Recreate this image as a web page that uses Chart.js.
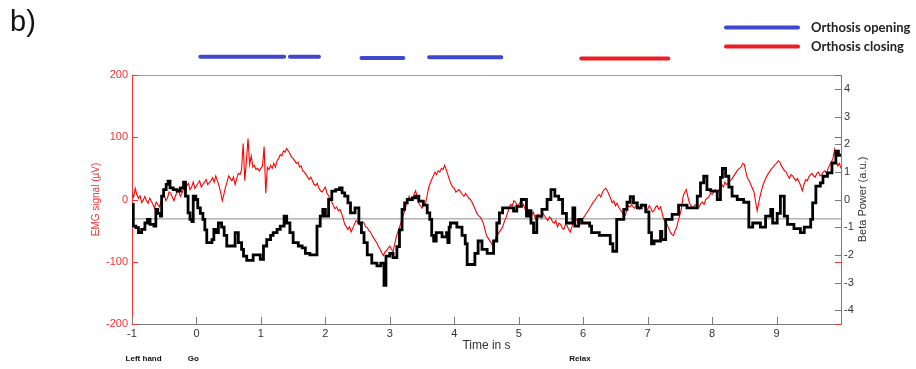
<!DOCTYPE html>
<html>
<head>
<meta charset="utf-8">
<script src="https://cdn.jsdelivr.net/npm/chart.js@4/dist/chart.umd.min.js"></script>
<style>
  html, body { margin: 0; padding: 0; background: #ffffff; }
  #wrap { position: relative; width: 916px; height: 369px; }
</style>
</head>
<body>
<div id="wrap"><canvas id="c" width="916" height="369"></canvas></div>
<script>
// EMG signal (µV), one sample every 25 ms from -1 s to 10 s
const emgStart = -1;
const emgStep = 0.025;
const emgValue = [
  10,4,18,8,2,6,-5,-1,5,-2,-6,2,-3,-8,-14,-4,-8,-12,-3,4,
  8,-2,2,12,10,4,-2,6,12,14,5,10,18,12,22,26,16,20,28,18,
  22,26,30,20,24,28,32,24,27,30,35,28,38,30,22,12,-2,8,20,28,
  38,34,30,36,24,34,42,40,48,90,30,62,98,56,70,52,55,48,50,46,
  50,54,85,10,52,48,55,50,58,52,62,66,72,70,78,76,82,78,74,68,
  66,62,58,60,52,54,46,44,40,36,32,36,30,24,22,26,18,14,12,16,
  20,10,6,0,-4,-10,-15,-12,-18,-16,-22,-30,-40,-44,-48,-44,-52,-46,-40,-34,
  -36,-40,-42,-36,-38,-44,-45,-50,-52,-58,-62,-66,-70,-76,-80,-86,-90,-84,-82,-78,
  -75,-80,-84,-72,-60,-52,-45,-36,-28,-20,-10,-2,5,-2,0,8,14,4,-6,-10,
  -14,-10,-8,4,18,26,32,38,44,40,46,44,50,48,55,48,40,32,25,20,
  18,12,14,16,12,8,5,10,6,2,0,-4,-10,-16,-22,-26,-28,-32,-38,-48,
  -58,-62,-66,-70,-76,-68,-60,-56,-52,-48,-44,-36,-30,-22,-14,-8,-10,-2,-4,-10,
  -8,-4,-12,-8,-16,-12,-18,-22,-26,-20,-28,-32,-24,-26,-30,-22,-26,-30,-34,-28,
  -30,-36,-38,-34,-44,-38,-40,-46,-48,-40,-42,-48,-52,-44,-38,-34,-32,-38,-40,-34,
  -30,-26,-22,-18,-14,-10,-5,-2,2,6,8,4,12,16,18,14,8,2,-5,-2,
  -10,-6,-12,-16,-20,-24,-26,-18,-10,-12,-8,-12,-14,-8,-10,-16,-14,-8,-12,-18,
  -16,-10,-14,-20,-18,-12,-10,-16,-12,-22,-32,-36,-40,-46,-52,-56,-58,-50,-45,-34,
  -25,-14,5,12,16,4,-6,-10,-14,-10,-8,-14,-12,-6,-4,-8,0,2,4,10,
  8,12,16,10,14,20,24,20,28,24,26,30,32,36,40,44,48,50,52,58,
  56,44,34,30,24,18,12,-4,-18,-4,8,18,26,32,38,42,46,50,52,56,
  58,62,60,54,50,46,44,38,34,40,38,34,30,34,28,22,14,24,32,30,
  36,40,42,38,36,42,44,38,40,44,46,42,50,56,60,66,80,62,54,58,
  50
];

// Beta power (a.u.), piecewise constant: each value holds from its time to the next
const betaTime = [
  -1.00,-0.98,-0.94,-0.90,-0.85,-0.80,-0.76,-0.72,-0.66,-0.63,-0.60,-0.56,-0.54,-0.51,-0.47,-0.44,-0.41,-0.36,-0.30,-0.25,
  -0.20,-0.17,-0.13,-0.10,-0.07,-0.05,-0.01,0.02,0.06,0.10,0.13,0.16,0.24,0.27,0.31,0.34,0.39,0.43,0.47,0.60,
  0.65,0.70,0.73,0.78,0.88,0.99,1.04,1.09,1.15,1.19,1.25,1.30,1.36,1.40,1.45,1.50,1.58,1.64,1.69,1.76,
  1.87,1.92,1.96,2.00,2.05,2.10,2.16,2.22,2.26,2.30,2.35,2.39,2.46,2.52,2.56,2.60,2.65,2.72,2.80,2.86,
  2.91,2.94,3.00,3.05,3.11,3.15,3.19,3.23,3.27,3.35,3.40,3.45,3.52,3.58,3.62,3.65,3.68,3.72,3.81,3.88,
  3.90,3.92,3.94,4.04,4.12,4.17,4.20,4.32,4.37,4.43,4.51,4.61,4.66,4.70,4.75,4.92,4.97,5.04,5.12,5.16,
  5.19,5.23,5.28,5.36,5.44,5.50,5.56,5.62,5.68,5.74,5.84,5.87,5.93,5.98,6.10,6.13,6.25,6.42,6.46,6.52,
  6.63,6.68,6.73,6.78,6.84,6.90,6.97,7.02,7.06,7.10,7.20,7.22,7.28,7.38,7.48,7.61,7.77,7.82,7.87,7.92,
  7.98,8.08,8.13,8.16,8.21,8.26,8.31,8.39,8.49,8.57,8.63,8.75,8.83,8.91,8.94,9.01,9.06,9.12,9.17,9.27,
  9.37,9.43,9.53,9.56,9.61,9.68,9.72,9.79,9.86,9.92,9.96,10.00
];
const betaValue = [
  -0.18,-0.96,-1.02,-1.20,-1.08,-0.85,-0.72,-0.90,-0.96,-0.36,-0.50,-0.60,0.12,0.36,0.55,0.66,0.42,0.36,0.30,0.42,
  0.63,0.12,-0.48,-0.72,-0.80,0.12,0.00,-0.30,-0.50,-0.72,-1.10,-1.56,-1.45,-1.08,-1.20,-0.85,-1.00,-1.30,-1.68,-1.20,
  -1.56,-1.80,-2.05,-2.20,-2.00,-2.16,-1.68,-1.45,-1.30,-1.20,-1.08,-0.96,-0.60,-0.85,-1.20,-1.56,-1.68,-1.75,-1.95,-2.00,
  -0.96,-0.60,-0.36,-0.60,0.00,0.30,0.36,0.42,0.24,0.12,-0.12,-0.48,-0.30,-0.85,-1.20,-1.56,-2.00,-2.30,-2.40,-2.30,
  -3.10,-2.05,-1.95,-2.10,-1.70,-1.10,-0.36,-0.12,0.00,0.06,0.12,-0.06,-0.20,-0.48,-0.72,-1.30,-1.50,-1.20,-1.35,-1.20,
  -1.56,-1.00,-0.85,-1.00,-1.30,-1.60,-2.35,-1.95,-1.50,-1.80,-1.95,-1.50,-0.85,-0.48,-0.30,-0.42,-0.25,0.00,-0.60,-0.40,
  -0.85,-1.20,-0.60,-0.36,0.00,0.36,0.12,0.00,-0.50,-0.85,-0.30,-0.96,-0.72,-0.85,-0.96,-1.20,-1.30,-1.60,-1.87,-0.72,
  -0.36,-0.10,0.10,-0.12,-0.30,-0.20,-0.45,-1.20,-1.60,-1.50,-1.15,-1.45,-0.72,-0.54,-0.20,-0.30,0.12,0.60,0.84,0.36,
  0.30,0.00,0.80,1.12,0.84,0.45,0.12,0.00,-0.10,-1.00,-0.85,-1.00,-0.60,-0.36,-0.85,-0.50,0.12,-0.60,-0.90,-1.05,
  -1.20,-1.00,-0.72,-0.12,0.48,0.60,0.84,0.96,1.32,1.75,1.60,1.60
];
const betaBaseline = -0.7;

// Orthosis events (s) and their bar heights on the event strip
const openingStart = [0.06, 1.45, 2.56, 3.61];
const openingEnd   = [1.36, 1.90, 3.21, 4.73];
const openingLevel = [1.073, 1.073, 1.068, 1.071];
const closingStart = [5.97];
const closingEnd   = [7.32];
const closingLevel = [1.066];

// Axis ticks
const timeTicks = [-1, 0, 1, 2, 3, 4, 5, 6, 7, 8, 9];
const emgTicks = [-200, -100, 0, 100, 200];
const betaTicks = [-4, -3, -2, -1, 0, 1, 2, 3, 4];

// Cue labels under the time axis
const cueLabels = ['Left hand', 'Go', 'Relax'];
const cueTimes = [-0.82, -0.05, 5.95];

const FONT = "'Liberation Sans', Arial, sans-serif";
const EMG_RED = '#ff3030';
const AXIS_GREY = '#7a7a7a';
const TEXT_DARK = '#333333';

function segments(starts, ends, levels) {
  const pts = [];
  starts.forEach((s, i) => {
    pts.push({ x: s, y: levels[i] }, { x: ends[i], y: levels[i] }, { x: ends[i], y: null });
  });
  return pts;
}

const axesDecor = {
  id: 'axesDecor',
  afterDraw(chart) {
    const { ctx, chartArea: a, scales } = chart;
    const xs = scales.x, ys = scales.y, yb = scales.y1;
    ctx.save();
    // top box edge
    ctx.strokeStyle = '#a0a0a0';
    ctx.lineWidth = 1;
    ctx.beginPath();
    ctx.moveTo(a.left, a.top + 0.5);
    ctx.lineTo(a.right, a.top + 0.5);
    ctx.stroke();
    // inward ticks on the time axis
    ctx.strokeStyle = AXIS_GREY;
    ctx.beginPath();
    timeTicks.forEach(v => {
      const px = Math.round(xs.getPixelForValue(v)) + 0.5;
      ctx.moveTo(px, a.bottom);
      ctx.lineTo(px, a.bottom - 7);
    });
    ctx.stroke();
    // EMG ticks, left and right edges
    ctx.strokeStyle = EMG_RED;
    ctx.beginPath();
    emgTicks.forEach(v => {
      const py = Math.round(ys.getPixelForValue(v)) + 0.5;
      ctx.moveTo(a.left, py);
      ctx.lineTo(a.left + 6, py);
      ctx.moveTo(a.right, py);
      ctx.lineTo(a.right - 6, py);
    });
    ctx.stroke();
    // beta ticks on the right edge
    ctx.strokeStyle = AXIS_GREY;
    ctx.beginPath();
    betaTicks.forEach(v => {
      const py = Math.round(yb.getPixelForValue(v)) + 0.5;
      ctx.moveTo(a.right, py);
      ctx.lineTo(a.right - 6, py);
    });
    ctx.stroke();

    // right axis title, reading bottom to top
    ctx.fillStyle = TEXT_DARK;
    ctx.font = '11px ' + FONT;
    ctx.textAlign = 'center';
    ctx.textBaseline = 'middle';
    ctx.translate(863, (a.top + a.bottom) / 2);
    ctx.rotate(-Math.PI / 2);
    ctx.fillText('Beta Power (a.u.)', 0, 0);
    ctx.setTransform(1, 0, 0, 1, 0, 0);

    // cue labels
    ctx.fillStyle = '#111111';
    ctx.font = 'bold 8px ' + FONT;
    cueLabels.forEach((t, i) => {
      ctx.fillText(t, xs.getPixelForValue(cueTimes[i]), 359);
    });

    // panel letter
    ctx.fillStyle = '#111111';
    ctx.font = '29px ' + FONT;
    ctx.textAlign = 'left';
    ctx.textBaseline = 'alphabetic';
    ctx.fillText('b)', 10, 31);

    // legend for the orthosis events
    const items = chart.data.datasets.filter(d => d.legendRow !== undefined);
    items.forEach(d => {
      const y = 27.5 + d.legendRow * 19;
      ctx.strokeStyle = d.borderColor;
      ctx.lineWidth = 4;
      ctx.lineCap = 'round';
      ctx.beginPath();
      ctx.moveTo(726, y);
      ctx.lineTo(798, y);
      ctx.stroke();
      ctx.fillStyle = '#222222';
      ctx.font = 'bold 13px Lato, ' + FONT;
      ctx.textBaseline = 'middle';
      ctx.fillText(d.label, 811, y);
    });
    ctx.restore();
  }
};

new Chart(document.getElementById('c'), {
  type: 'line',
  data: {
    datasets: [
      {
        label: 'Beta power',
        data: betaTime.map((t, i) => ({ x: t, y: betaValue[i] })),
        yAxisID: 'y1',
        stepped: true,
        borderColor: '#000000',
        borderWidth: 2.8,
        pointRadius: 0,
        order: 0
      },
      {
        label: 'EMG',
        data: emgValue.map((v, i) => ({ x: emgStart + i * emgStep, y: v })),
        yAxisID: 'y',
        borderColor: '#ff0000',
        borderWidth: 1.1,
        pointRadius: 0,
        tension: 0,
        order: 1
      },
      {
        label: 'Baseline',
        data: [{ x: -1, y: betaBaseline }, { x: 10, y: betaBaseline }],
        yAxisID: 'y1',
        borderColor: '#8c8c8c',
        borderWidth: 1,
        pointRadius: 0,
        order: 2
      },
      {
        label: 'Orthosis opening',
        data: segments(openingStart, openingEnd, openingLevel),
        yAxisID: 'ev',
        borderColor: '#3f48cc',
        borderWidth: 4,
        borderCapStyle: 'round',
        pointRadius: 0,
        spanGaps: false,
        clip: false,
        legendRow: 0,
        order: 3
      },
      {
        label: 'Orthosis closing',
        data: segments(closingStart, closingEnd, closingLevel),
        yAxisID: 'ev',
        borderColor: '#ee1c24',
        borderWidth: 4,
        borderCapStyle: 'round',
        pointRadius: 0,
        spanGaps: false,
        clip: false,
        legendRow: 1,
        order: 3
      }
    ]
  },
  options: {
    responsive: false,
    animation: false,
    devicePixelRatio: 1,
    layout: { padding: { top: 75, left: 0, right: 0, bottom: 0 } },
    plugins: { legend: { display: false }, tooltip: { enabled: false } },
    scales: {
      x: {
        type: 'linear',
        min: -1, max: 10,
        afterBuildTicks: s => { s.ticks = timeTicks.map(v => ({ value: v })); },
        afterFit: s => { s.height = 45; },
        grid: { display: false, drawTicks: false },
        border: { display: true, color: AXIS_GREY, width: 1 },
        ticks: { color: TEXT_DARK, font: { family: FONT, size: 11 }, padding: 3, maxRotation: 0, autoSkip: false },
        title: { display: true, text: 'Time in s', color: TEXT_DARK, font: { family: FONT, size: 12 }, padding: { top: 0, bottom: 16 } }
      },
      y: {
        position: 'left',
        min: -200, max: 200,
        afterBuildTicks: s => { s.ticks = emgTicks.map(v => ({ value: v })); },
        afterFit: s => { s.width = 132; },
        grid: { display: false, drawTicks: false },
        border: { display: true, color: EMG_RED, width: 1 },
        ticks: { color: EMG_RED, font: { family: FONT, size: 11 }, padding: 4 },
        title: { display: true, text: 'EMG signal (µV)', color: EMG_RED, font: { family: FONT, size: 10 }, padding: { top: 90, bottom: 0 } }
      },
      y1: {
        position: 'right',
        min: -4.5, max: 4.5,
        afterBuildTicks: s => { s.ticks = betaTicks.map(v => ({ value: v })); },
        afterFit: s => { s.width = 75; },
        grid: { display: false, drawTicks: false },
        border: { display: true, color: AXIS_GREY, width: 1 },
        ticks: { color: TEXT_DARK, font: { family: FONT, size: 11 }, padding: 3 }
      },
      ev: {
        display: false,
        position: 'right',
        min: 0, max: 1
      }
    }
  },
  plugins: [axesDecor]
});
</script>
</body>
</html>
